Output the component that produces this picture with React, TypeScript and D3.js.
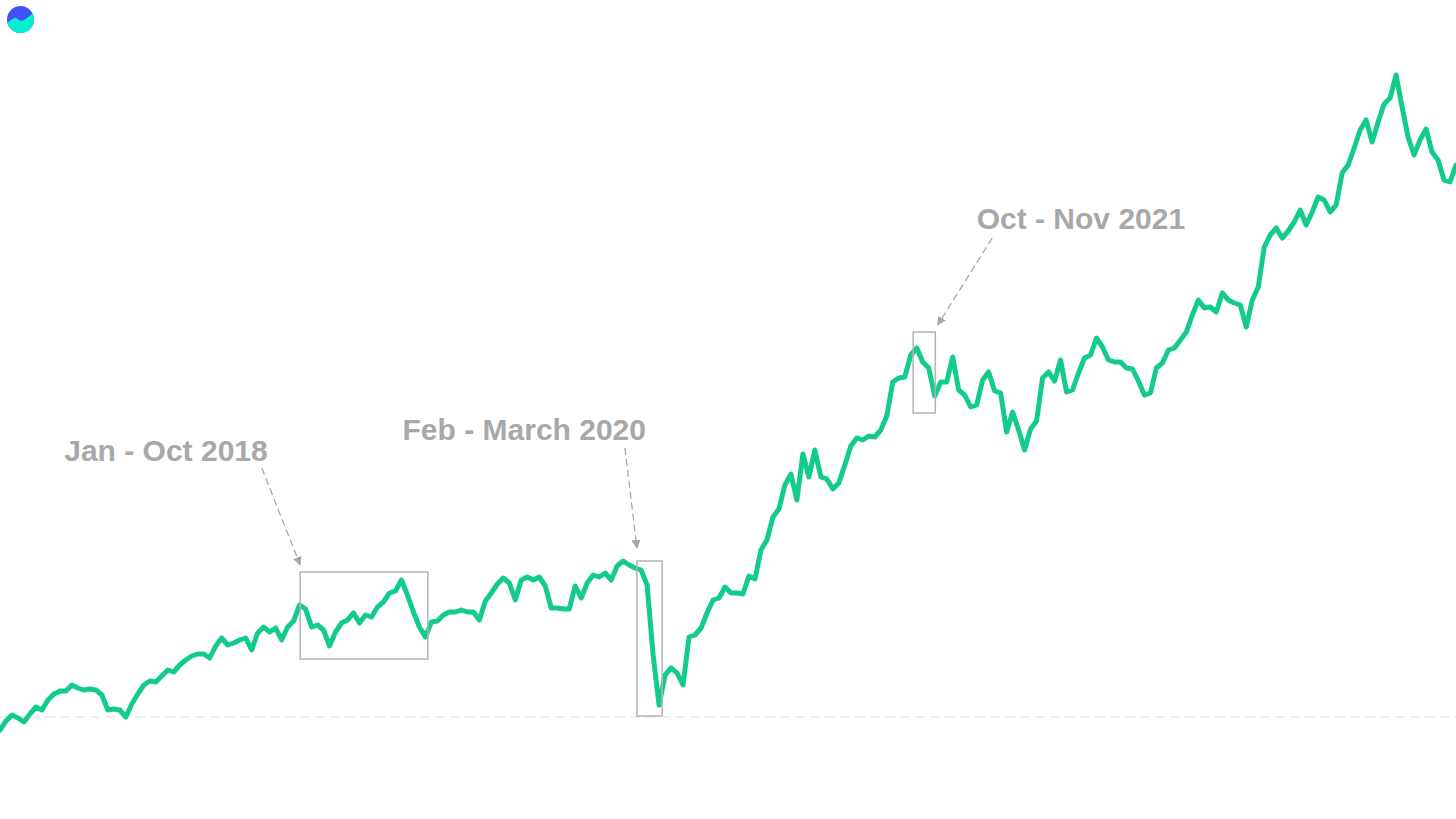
import React from "react";
import * as d3 from "d3";

// weekly index level (100 = reference level)
const weeklyIndex = [
  87, 96, 102, 99, 95, 103, 110, 107, 117, 123,
  126, 126, 132, 129, 127, 128, 127, 122, 107, 108,
  107, 100, 113, 123, 132, 136, 135, 141, 147, 145,
  152, 157, 161, 163, 163, 159, 171, 179, 172, 174,
  177, 179, 167, 184, 190, 185, 189, 177, 190, 196,
  212, 208, 190, 192, 187, 171, 185, 194, 197, 204,
  194, 202, 200, 210, 215, 224, 226, 237, 222, 205,
  190, 180, 195, 196, 202, 205, 205, 207, 205, 205,
  197, 216, 224, 233, 239, 234, 217, 237, 240, 237,
  240, 231, 209, 209, 208, 208, 231, 219, 234, 242,
  240, 244, 237, 251, 256, 252, 249, 247, 232, 162,
  112, 142, 149, 144, 132, 180, 182, 189, 204, 217,
  219, 230, 224, 224, 223, 241, 238, 267, 277, 300,
  308, 332, 343, 317, 363, 340, 367, 340, 338, 328,
  334, 352, 371, 379, 377, 381, 380, 387, 401, 435,
  439, 440, 462, 469, 455, 449, 421, 435, 435, 460,
  427, 422, 410, 412, 437, 445, 426, 424, 385, 405,
  387, 367, 388, 396, 439, 445, 436, 457, 425, 427,
  444, 459, 462, 479, 470, 457, 455, 455, 449, 448,
  436, 422, 424, 449, 454, 467, 469, 477, 485, 502,
  517, 509, 510, 505, 524, 517, 514, 512, 490, 517,
  530, 570, 582, 589, 579, 586, 595, 607, 592, 605,
  620, 617, 605, 612, 644, 652, 669, 687, 697, 675,
  695, 713, 719, 742, 710, 680, 662, 677, 688, 665,
  657, 637, 635, 652,
];

const baseline = 100;

// highlighted periods: week range + index range of the box
const periodLabels = ["Jan - Oct 2018", "Feb - March 2020", "Oct - Nov 2021"];
const periodWeeks = [[50.1, 71.4], [106.3, 110.5], [152.4, 156.1]];
const periodLevels = [[158, 245], [101, 256], [404, 485]];
// label anchor and arrow (start -> tip), in week / index units
const labelAt = [[27.7, 356], [87.5, 377], [180.4, 588]];
const arrowFrom = [[43.7, 349], [104.3, 369], [165.6, 579]];
const arrowTo = [[50.1, 252], [106.3, 269], [156.5, 492]];

const W = 1456;
const H = 819;

export default function App() {
  const x = d3.scaleLinear().domain([0, weeklyIndex.length - 1]).range([0, W]);
  const y = d3.scaleLinear().domain([-2, 817]).range([H, 0]);

  const line = d3
    .line<number>()
    .x((_, i) => x(i))
    .y((d) => y(d));

  const grey = "#a8a8a8";

  return (
    <svg
      width={W}
      height={H}
      viewBox={`0 0 ${W} ${H}`}
      style={{ position: "absolute", left: 0, top: 0, background: "#fff" }}
    >
      <defs>
        <marker
          id="arrow"
          viewBox="0 0 10 10"
          refX={9}
          refY={5}
          markerWidth={9}
          markerHeight={9}
          markerUnits="userSpaceOnUse"
          orient="auto"
        >
          <path d="M0,0 L10,5 L0,10 z" fill={grey} />
        </marker>
        <clipPath id="logo-clip">
          <circle cx={20.5} cy={19.5} r={13.5} />
        </clipPath>
      </defs>

      {/* logo */}
      <g clipPath="url(#logo-clip)">
        <rect x={5} y={4} width={32} height={32} fill="#4252fb" />
        <path d="M5,24 L15,17.5 L21,21 L25,19.5 L36,11 L36,36 L5,36 Z" fill="#05f0d2" />
      </g>

      {/* reference level */}
      <line
        x1={0}
        x2={W}
        y1={y(baseline)}
        y2={y(baseline)}
        stroke="#e2e2e2"
        strokeWidth={1.2}
        strokeDasharray="10,5"
      />

      <path
        d={line(weeklyIndex) || ""}
        fill="none"
        stroke="#12cc88"
        strokeWidth={5}
        strokeLinejoin="round"
        strokeLinecap="round"
      />

      {/* annotations */}
      {periodLabels.map((label, k) => {
        const [w0, w1] = periodWeeks[k];
        const [lo, hi] = periodLevels[k];
        return (
          <g key={label}>
            <rect
              x={x(w0)}
              y={y(hi)}
              width={x(w1) - x(w0)}
              height={y(lo) - y(hi)}
              fill="none"
              stroke="#b3b3b3"
              strokeWidth={1.5}
            />
            <line
              x1={x(arrowFrom[k][0])}
              y1={y(arrowFrom[k][1])}
              x2={x(arrowTo[k][0])}
              y2={y(arrowTo[k][1])}
              stroke={grey}
              strokeWidth={1.3}
              strokeDasharray="7,4"
              markerEnd="url(#arrow)"
            />
            <text
              x={x(labelAt[k][0])}
              y={y(labelAt[k][1])}
              textAnchor="middle"
              fontFamily="'Liberation Sans', Arial, sans-serif"
              fontWeight="bold"
              fontSize={30}
              fill={grey}
            >
              {label}
            </text>
          </g>
        );
      })}
    </svg>
  );
}
